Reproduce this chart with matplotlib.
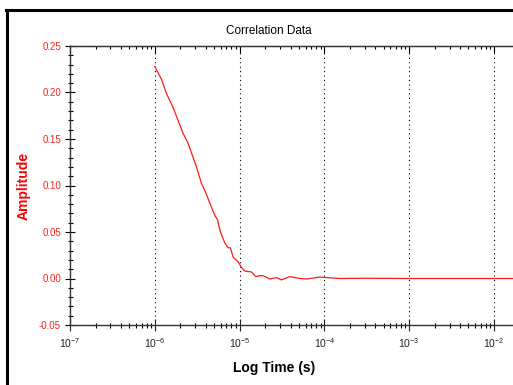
import math
import matplotlib
matplotlib.use("Agg")
import matplotlib.pyplot as plt
from matplotlib.ticker import LogLocator, MultipleLocator, FuncFormatter, NullFormatter
from matplotlib.lines import Line2D

plt.rcParams['font.family'] = ['Liberation Sans', 'DejaVu Sans']
plt.rcParams['mathtext.fontset'] = 'custom'
plt.rcParams['mathtext.rm'] = 'Liberation Sans'
plt.rcParams['mathtext.it'] = 'Liberation Sans'
plt.rcParams['mathtext.bf'] = 'Liberation Sans:bold'
plt.rcParams['axes.unicode_minus'] = False

# correlation data
time_s = [1.00e-6, 1.20e-6, 1.37e-6, 1.64e-6, 1.90e-6, 2.16e-6, 2.45e-6,
          2.71e-6, 3.10e-6, 3.56e-6, 4.00e-6, 4.46e-6, 5.10e-6, 5.50e-6,
          5.85e-6, 6.30e-6, 6.71e-6, 7.31e-6, 7.80e-6, 8.38e-6, 9.59e-6,
          1.05e-5, 1.15e-5, 1.38e-5, 1.55e-5, 1.70e-5, 1.89e-5, 2.27e-5,
          2.72e-5, 3.12e-5, 3.91e-5, 5.13e-5, 6.15e-5, 8.83e-5, 1.52e-4,
          3.0e-4, 1.0e-3, 3.0e-3, 1.0e-2, 1.7e-2]
amplitude = [0.228, 0.214, 0.199, 0.184, 0.169, 0.156, 0.146,
             0.135, 0.120, 0.102, 0.092, 0.081, 0.068, 0.063,
             0.052, 0.044, 0.038, 0.033, 0.033, 0.023, 0.018,
             0.012, 0.008, 0.007, 0.002, 0.003, 0.003, -0.0005,
             0.001, -0.0015, 0.002, 0.0, -0.0005, 0.0015, 0.0,
             0.0003, 0.0, 0.0, 0.0, 0.0]

W, H = 513, 385
fig = plt.figure(figsize=(W / 100, H / 100), dpi=100)
ax = fig.add_axes([70 / W, 1 - 325 / H, 1 - 70 / W, (325 - 46) / H])

ax.plot(time_s, amplitude, color='#ff1a1a', lw=0.9)

ax.set_xscale('log')
ax.set_xlim(1e-7, 10 ** -1.776)
ax.set_ylim(-0.05, 0.25)

ax.xaxis.set_major_locator(LogLocator(base=10, numticks=20))
ax.xaxis.set_minor_locator(LogLocator(base=10, subs=range(2, 10), numticks=20))
ax.xaxis.set_major_formatter(FuncFormatter(lambda v, p: r'$10^{%d}$' % round(math.log10(v))))
ax.xaxis.set_minor_formatter(NullFormatter())
ax.yaxis.set_major_locator(MultipleLocator(0.05))
ax.yaxis.set_minor_locator(MultipleLocator(0.01))
ax.yaxis.set_major_formatter(FuncFormatter(lambda v, p: '%.2f' % v))

for v in [1e-6, 1e-5, 1e-4, 1e-3, 1e-2]:
    ax.axvline(v, color='black', lw=0.8, ls=(0, (1, 3)), zorder=0)

ax.spines['right'].set_visible(False)
for s in ['top', 'left', 'bottom']:
    ax.spines[s].set_color('#333333')
    ax.spines[s].set_linewidth(1.0)

ax.tick_params(axis='x', which='major', direction='inout', length=8, width=0.8,
               labelsize=7.5, pad=4, colors='#222222')
ax.tick_params(axis='x', which='minor', direction='inout', length=3.6, width=0.8)
ax.tick_params(axis='y', which='major', direction='inout', length=7, width=0.8,
               labelsize=7, labelcolor='#ff2020', pad=3)
ax.tick_params(axis='y', which='minor', direction='inout', length=3.6, width=0.8)

# top axis: ticks pointing inward only
top = ax.secondary_xaxis('top')
top.xaxis.set_major_locator(LogLocator(base=10, numticks=20))
top.xaxis.set_minor_locator(LogLocator(base=10, subs=range(2, 10), numticks=20))
top.tick_params(which='major', direction='in', length=5, width=0.8, labeltop=False)
top.tick_params(which='minor', direction='in', length=2.5, width=0.8)
top.spines['top'].set_color('#333333')

ax.set_title('Correlation Data', fontsize=8.5, pad=9, x=0.449)
ax.set_xlabel('Log Time (s)', fontsize=10, fontweight='bold', labelpad=8, x=0.46)
ax.set_ylabel('Amplitude', fontsize=10, fontweight='bold', color='#ff0000', labelpad=6)

# window frame
fig.add_artist(Line2D([7 / W, 7 / W], [0, 1 - 10 / H], color='black', lw=2.2,
                      transform=fig.transFigure))
fig.add_artist(Line2D([6 / W, 1], [1 - 10 / H, 1 - 10 / H], color='black', lw=2.2,
                      transform=fig.transFigure))

fig.savefig('out.png', dpi=100)
